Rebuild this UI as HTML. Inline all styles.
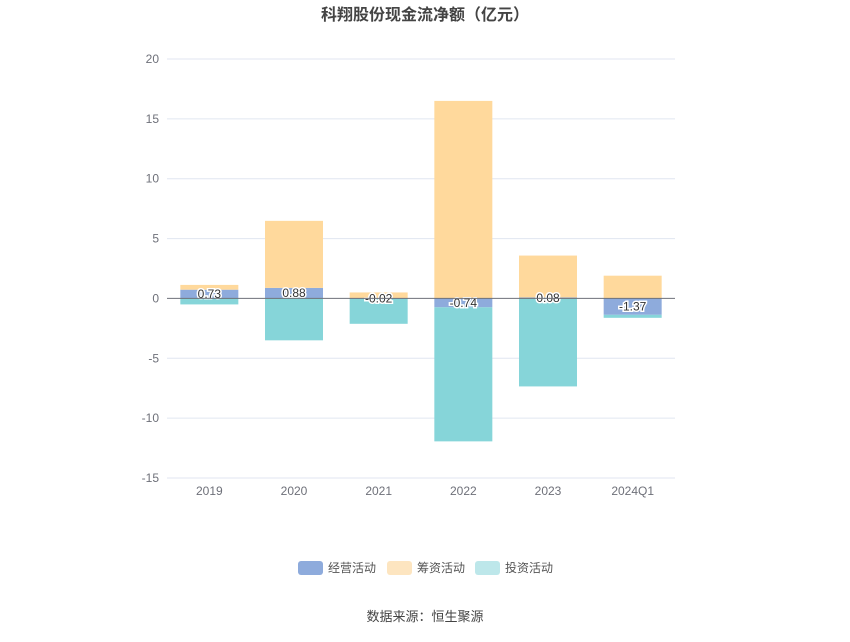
<!DOCTYPE html>
<html><head><meta charset="utf-8"><style>
body{margin:0;background:#fff;width:850px;height:637px;overflow:hidden;font-family:"Liberation Sans","Noto Sans CJK SC",sans-serif}
</style></head><body>
<svg width="850" height="637" id="c" xmlns="http://www.w3.org/2000/svg">
<text x="425" y="20" text-anchor="middle" font-size="16" font-weight="bold" fill="#444" font-family="Liberation Sans, Noto Sans CJK SC, sans-serif">科翔股份现金流净额（亿元）</text>
<g id="grid"></g><g id="bars"></g><g id="labels"></g>
<g font-size="12" fill="#555" font-family="Liberation Sans, Noto Sans CJK SC, sans-serif">
<g><rect x="298" y="561" width="25" height="14" rx="3" fill="#8eabdc"/><text x="328" y="572">经营活动</text></g>
<g><rect x="387" y="561" width="25" height="14" rx="3" fill="#fde5c0"/><text x="417" y="572">筹资活动</text></g>
<g><rect x="475" y="561" width="25" height="14" rx="3" fill="#bde7ea"/><text x="505" y="572">投资活动</text></g>
</g>
<text x="425" y="621" text-anchor="middle" font-size="13" fill="#444" font-family="Liberation Sans, Noto Sans CJK SC, sans-serif">数据来源：恒生聚源</text>
</svg>
<script>
const categories=["2019","2020","2021","2022","2023","2024Q1"];
const operating=[0.73,0.88,-0.02,-0.74,0.08,-1.37];
const financing=[0.4,5.6,0.5,16.5,3.5,1.9];
const investing=[-0.5,-3.5,-2.1,-11.2,-7.35,-0.25];
const yTicks=[-15,-10,-5,0,5,10,15,20];
const NS="http://www.w3.org/2000/svg";
const x0=167,x1=675,yTop=59,yBot=478,yMin=-15,yMax=20;
const y=v=>yTop+(yMax-v)/(yMax-yMin)*(yBot-yTop);
const band=(x1-x0)/categories.length;
const xc=i=>x0+band*(i+0.5);
function mk(tag,attrs,parent){const e=document.createElementNS(NS,tag);for(const k in attrs)e.setAttribute(k,attrs[k]);parent.appendChild(e);return e;}
const grid=document.getElementById('grid'),bars=document.getElementById('bars'),labels=document.getElementById('labels');
yTicks.forEach(t=>{
  if(t!==0){const l=mk('line',{x1:x0,x2:x1,y1:y(t),y2:y(t),stroke:'#e0e6f1'},grid);
  
  }
  const tx=mk('text',{x:159,y:y(t)+4,'text-anchor':'end','font-size':12,fill:'#6e7079'},grid);
  tx.textContent=t;
  
  
});
categories.forEach((c,i)=>{
  const tx=mk('text',{x:xc(i),y:495,'text-anchor':'middle','font-size':12,fill:'#6e7079'},grid);
  tx.textContent=c;
  
  
});
const bw=58;
const series=[[operating,'#8eabdc','operating'],[financing,'#ffd99c','financing'],[investing,'#86d5d9','investing']];
categories.forEach((c,i)=>{
  let pos=0,neg=0;
  series.forEach(([arr,col,nm])=>{
    const v=arr[i];let a,b;
    if(v>=0){a=pos;b=pos+v;pos=b;}else{a=neg;b=neg+v;neg=b;}
    const top=y(Math.max(a,b)),bot=y(Math.min(a,b));
    const r=mk('rect',{x:xc(i)-bw/2,y:top,width:bw,height:Math.max(bot-top,0.5),fill:col},bars);
    
    
  });
  const v=operating[i];
  const t=mk('text',{x:xc(i),y:y(v/2)+4,'text-anchor':'middle','font-size':12,fill:'#333',stroke:'#fff','stroke-width':3,'paint-order':'stroke'},labels);
  t.textContent=v.toFixed(2);
  
  
});
const ax=mk('line',{x1:x0,x2:x1,y1:y(0),y2:y(0),stroke:'#6e7079'},labels);


</script>
</body></html>
